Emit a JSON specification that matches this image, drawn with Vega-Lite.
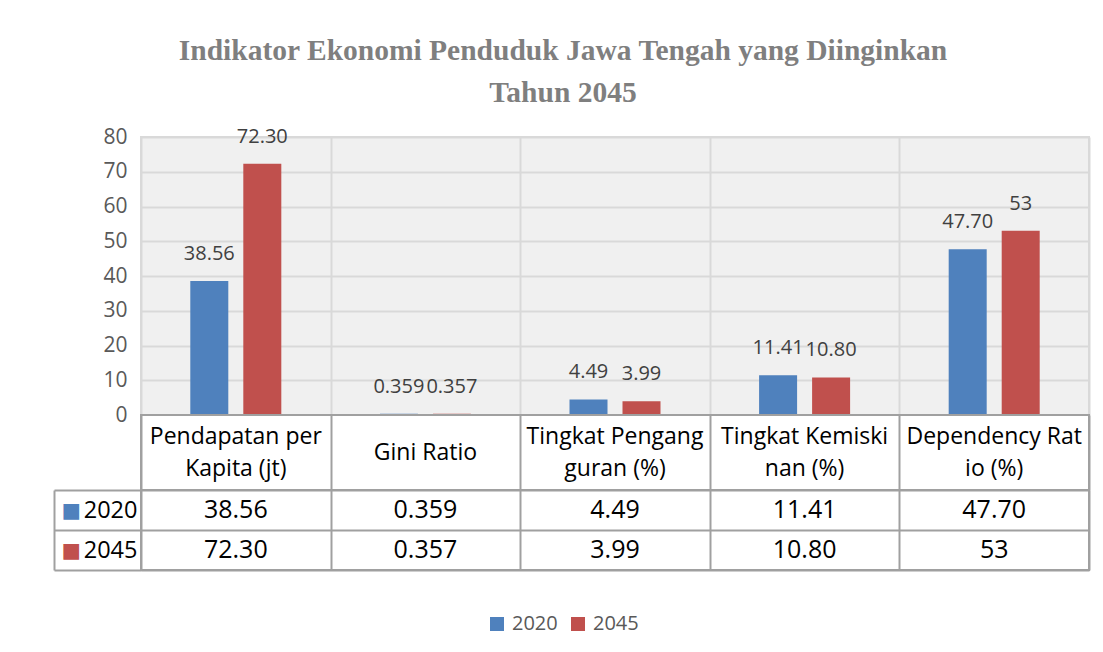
{
  "$schema": "https://vega.github.io/schema/vega-lite/v6.json",
  "background": "white",
  "padding": {"left": 52, "top": 35, "right": 10, "bottom": 10},
  "bounds": "flush",
  "spacing": 0,
  "title": {
    "text": ["Indikator Ekonomi Penduduk Jawa Tengah yang Diinginkan", "Tahun 2045"],
    "font": "Liberation Serif",
    "fontSize": 29.5,
    "fontWeight": "bold",
    "color": "#7f7f7f",
    "lineHeight": 42,
    "anchor": "middle",
    "dx": -8,
    "offset": 17
  },
  "datasets": {
    "indikator": [
      {"kategori": "Pendapatan per Kapita (jt)", "tahun": "2020", "nilai": 38.56, "label": "38.56"},
      {"kategori": "Pendapatan per Kapita (jt)", "tahun": "2045", "nilai": 72.30, "label": "72.30"},
      {"kategori": "Gini Ratio", "tahun": "2020", "nilai": 0.359, "label": "0.359"},
      {"kategori": "Gini Ratio", "tahun": "2045", "nilai": 0.357, "label": "0.357"},
      {"kategori": "Tingkat Pengangguran (%)", "tahun": "2020", "nilai": 4.49, "label": "4.49"},
      {"kategori": "Tingkat Pengangguran (%)", "tahun": "2045", "nilai": 3.99, "label": "3.99"},
      {"kategori": "Tingkat Kemiskinan (%)", "tahun": "2020", "nilai": 11.41, "label": "11.41"},
      {"kategori": "Tingkat Kemiskinan (%)", "tahun": "2045", "nilai": 10.80, "label": "10.80"},
      {"kategori": "Dependency Ratio (%)", "tahun": "2020", "nilai": 47.70, "label": "47.70"},
      {"kategori": "Dependency Ratio (%)", "tahun": "2045", "nilai": 53, "label": "53"}
    ],
    "kolom": [
      {"kategori": "Pendapatan per Kapita (jt)", "baris1": "Pendapatan per", "baris2": "Kapita (jt)", "tunggal": ""},
      {"kategori": "Gini Ratio", "baris1": "", "baris2": "", "tunggal": "Gini Ratio"},
      {"kategori": "Tingkat Pengangguran (%)", "baris1": "Tingkat Pengang", "baris2": "guran (%)", "tunggal": ""},
      {"kategori": "Tingkat Kemiskinan (%)", "baris1": "Tingkat Kemiski", "baris2": "nan (%)", "tunggal": ""},
      {"kategori": "Dependency Ratio (%)", "baris1": "Dependency Rat", "baris2": "io (%)", "tunggal": ""}
    ]
  },
  "vconcat": [
    {
      "data": {"name": "indikator"},
      "width": 948,
      "height": 278,
      "view": {"fill": "#f0f0f0", "stroke": "#d9d9d9", "strokeWidth": 2},
      "encoding": {
        "x": {
          "field": "kategori", "type": "nominal",
          "sort": ["Pendapatan per Kapita (jt)", "Gini Ratio", "Tingkat Pengangguran (%)", "Tingkat Kemiskinan (%)", "Dependency Ratio (%)"],
          "scale": {"paddingInner": 0, "paddingOuter": 0},
          "axis": {"title": null, "labels": false, "ticks": false, "domain": false, "grid": true, "tickBand": "extent", "gridColor": "#d9d9d9", "gridWidth": 2}
        },
        "xOffset": {"field": "tahun", "type": "nominal", "sort": ["2020", "2045"], "scale": {"paddingInner": 0.283, "paddingOuter": 0.93}},
        "y": {
          "field": "nilai", "type": "quantitative",
          "scale": {"domain": [0, 80], "nice": false},
          "axis": {"title": null, "values": [0, 10, 20, 30, 40, 50, 60, 70, 80], "domain": false, "ticks": false, "labelPadding": 14, "labelFontSize": 21, "labelColor": "#595959", "gridColor": "#d9d9d9", "gridWidth": 2}
        }
      },
      "layer": [
        {
          "mark": {"type": "bar"},
          "encoding": {
            "color": {
              "field": "tahun", "type": "nominal",
              "scale": {"domain": ["2020", "2045"], "range": ["#4F81BD", "#C0504D"]},
              "legend": {"title": null, "orient": "none", "legendX": 346, "legendY": 477, "direction": "horizontal", "symbolType": "square", "symbolSize": 196, "symbolStrokeWidth": 0, "labelFontSize": 20, "labelColor": "#595959", "labelOffset": 5, "columnPadding": 10}
            }
          }
        },
        {
          "mark": {"type": "text", "baseline": "middle", "dy": -27, "fontSize": 20, "color": "#404040"},
          "encoding": {"text": {"field": "label"}}
        }
      ]
    },
    {
      "data": {"name": "kolom"},
      "width": 948,
      "height": 75,
      "view": {"fill": "white", "stroke": "#a0a0a0", "strokeWidth": 2},
      "encoding": {
        "x": {
          "field": "kategori", "type": "nominal",
          "sort": ["Pendapatan per Kapita (jt)", "Gini Ratio", "Tingkat Pengangguran (%)", "Tingkat Kemiskinan (%)", "Dependency Ratio (%)"],
          "scale": {"paddingInner": 0, "paddingOuter": 0},
          "axis": {"title": null, "labels": false, "ticks": false, "domain": false, "grid": true, "tickBand": "extent", "gridColor": "#a0a0a0", "gridWidth": 2}
        }
      },
      "layer": [
        {
          "mark": {"type": "text", "fontSize": 23, "color": "#000000", "baseline": "middle", "dy": -16},
          "encoding": {"text": {"field": "baris1"}}
        },
        {
          "mark": {"type": "text", "fontSize": 23, "color": "#000000", "baseline": "middle", "dy": 16},
          "encoding": {"text": {"field": "baris2"}}
        },
        {
          "mark": {"type": "text", "fontSize": 23, "color": "#000000", "baseline": "middle"},
          "encoding": {"text": {"field": "tunggal"}}
        }
      ]
    },
    {
      "data": {"name": "indikator"},
      "width": 948,
      "height": 80,
      "view": {"fill": "white", "stroke": "#a0a0a0", "strokeWidth": 2},
      "encoding": {
        "x": {
          "field": "kategori", "type": "nominal",
          "sort": ["Pendapatan per Kapita (jt)", "Gini Ratio", "Tingkat Pengangguran (%)", "Tingkat Kemiskinan (%)", "Dependency Ratio (%)"],
          "scale": {"paddingInner": 0, "paddingOuter": 0},
          "axis": {"title": null, "labels": false, "ticks": false, "domain": false, "grid": true, "tickBand": "extent", "gridColor": "#a0a0a0", "gridWidth": 2}
        }
      },
      "layer": [
        {
          "mark": {"type": "text", "fontSize": 25, "color": "#000000", "baseline": "middle"},
          "encoding": {
            "y": {
              "field": "tahun", "type": "nominal", "sort": ["2020", "2045"],
              "scale": {"paddingInner": 0, "paddingOuter": 0},
              "axis": {"title": null, "orient": "left", "domain": false, "tickBand": "extent", "tickSize": 87, "tickColor": "#a0a0a0", "tickWidth": 2, "labelPadding": -83, "labelFontSize": 23.5, "labelColor": "#000000", "grid": true, "gridColor": "#a0a0a0", "gridWidth": 2}
            },
            "text": {"field": "label"}
          }
        },
        {
          "mark": {"type": "text", "opacity": 0},
          "encoding": {
            "y": {
              "field": "tahun", "type": "nominal", "sort": ["2020", "2045"],
              "scale": {"paddingInner": 0, "paddingOuter": 0},
              "axis": {"title": null, "orient": "left", "offset": 87, "domain": true, "domainColor": "#a0a0a0", "domainWidth": 2, "ticks": false, "grid": false, "labelExpr": "'■'", "labelAlign": "left", "labelPadding": -7, "labelFont": "DejaVu Sans", "labelFontSize": 20.5, "labelColor": {"condition": {"test": "datum.value == '2020'", "value": "#4F81BD"}, "value": "#C0504D"}}
            },
            "text": {"field": "label"}
          }
        }
      ],
      "resolve": {"scale": {"y": "independent"}, "axis": {"y": "independent"}}
    }
  ],
  "resolve": {"scale": {"y": "independent", "color": "shared"}, "legend": {"color": "shared"}},
  "config": {
    "font": "Open Sans",
    "axis": {"labelFont": "Open Sans"},
    "legend": {"labelFont": "Open Sans"}
  }
}
